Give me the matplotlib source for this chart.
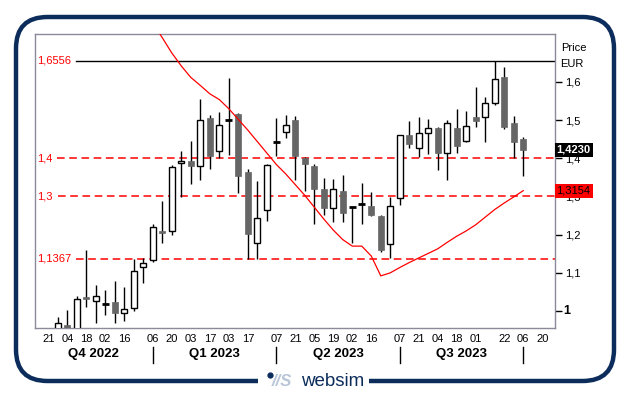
import pandas as pd
import matplotlib
matplotlib.use("Agg")
import matplotlib.pyplot as plt
from matplotlib.patches import FancyBboxPatch, Rectangle
from matplotlib.lines import Line2D

plt.rcParams['font.family'] = ['Liberation Sans', 'DejaVu Sans']

# weekly candles, first week = 21 Oct 2022
weeks = pd.date_range("2022-10-21", periods=53, freq="W-FRI")

candle_start = 1
opens = [0.940, 0.964, 0.950, 1.036, 1.026, 1.018, 1.024, 0.994, 1.007, 1.116,
         1.134, 1.210, 1.210, 1.387, 1.393, 1.379, 1.505, 1.418, 1.500, 1.516,
         1.364, 1.179, 1.264, 1.443, 1.468, 1.500, 1.400, 1.380, 1.320, 1.269,
         1.314, 1.272, 1.281, 1.275, 1.249, 1.175, 1.295, 1.461, 1.428, 1.467,
         1.480, 1.415, 1.480, 1.446, 1.509, 1.509, 1.546, 1.613, 1.493, 1.451]
highs = [0.985, 1.003, 1.039, 1.160, 1.068, 1.055, 1.079, 1.064, 1.135, 1.138,
         1.228, 1.289, 1.383, 1.419, 1.446, 1.555, 1.513, 1.521, 1.611, 1.519,
         1.372, 1.341, 1.384, 1.505, 1.513, 1.511, 1.404, 1.385, 1.348, 1.346,
         1.356, 1.272, 1.335, 1.311, 1.252, 1.299, 1.462, 1.499, 1.508, 1.503,
         1.483, 1.500, 1.529, 1.524, 1.587, 1.561, 1.6556, 1.638, 1.511, 1.457]
lows = [0.930, 0.930, 0.935, 1.011, 0.968, 0.990, 0.969, 0.975, 1.001, 1.073,
        1.128, 1.179, 1.200, 1.298, 1.333, 1.343, 1.372, 1.400, 1.409, 1.310,
        1.136, 1.136, 1.237, 1.407, 1.452, 1.343, 1.315, 1.228, 1.251, 1.234,
        1.232, 1.179, 1.228, 1.249, 1.155, 1.140, 1.278, 1.428, 1.404, 1.411,
        1.369, 1.343, 1.413, 1.442, 1.483, 1.444, 1.540, 1.477, 1.400, 1.354]
closes = [0.968, 0.945, 1.031, 1.032, 1.039, 1.018, 0.996, 1.004, 1.106, 1.125,
          1.219, 1.205, 1.376, 1.393, 1.381, 1.500, 1.407, 1.487, 1.500, 1.354,
          1.203, 1.243, 1.382, 1.443, 1.487, 1.407, 1.384, 1.320, 1.271, 1.319,
          1.258, 1.272, 1.281, 1.252, 1.160, 1.275, 1.461, 1.438, 1.466, 1.479,
          1.415, 1.492, 1.433, 1.485, 1.499, 1.544, 1.607, 1.483, 1.444, 1.423]

# moving average (red line)
ma_start = 11
ma_values = [1.754, 1.716, 1.676, 1.642, 1.612, 1.591, 1.569, 1.554, 1.530, 1.502,
             1.474, 1.444, 1.414, 1.384, 1.359, 1.331, 1.303, 1.272, 1.241, 1.212,
             1.187, 1.170, 1.170, 1.144, 1.092, 1.100, 1.114, 1.127, 1.139, 1.151,
             1.163, 1.180, 1.196, 1.210, 1.226, 1.246, 1.266, 1.283, 1.299, 1.3154]

tick_dates = ["2022-10-21", "2022-11-04", "2022-11-18", "2022-12-02", "2022-12-16",
              "2023-01-06", "2023-01-20", "2023-02-03", "2023-02-17", "2023-03-03",
              "2023-03-17", "2023-04-07", "2023-04-21", "2023-05-05", "2023-05-19",
              "2023-06-02", "2023-06-16", "2023-07-07", "2023-07-21", "2023-08-04",
              "2023-08-18", "2023-09-01", "2023-09-22", "2023-10-06", "2023-10-20"]
quarter_starts = ["2023-01-06", "2023-04-07", "2023-07-07", "2023-10-06"]
quarter_labels = ["Q4 2022", "Q1 2023", "Q2 2023", "Q3 2023"]

y_ticks = [1.6, 1.5, 1.4, 1.3, 1.2, 1.1]
y_tick_labels = ["1,6", "1,5", "1,4", "1,3", "1,2", "1,1"]

ref_levels = [1.6556, 1.4, 1.3, 1.1367]
ref_labels = ["1,6556", "1,4", "1,3", "1,1367"]
last_price = 1.4230
last_ma = 1.3154

NAVY = "#0c2d5c"
RED = "#ff0000"
GRAY = "#666666"

fig = plt.figure(figsize=(6.29, 3.95), dpi=100)
fig.patch.set_facecolor("white")
W, H = 629, 395
ax = fig.add_axes([35 / W, (H - 328) / H, 520 / W, 294 / H])
ax.set_xlim(-1.4, 53.34)
ax.set_ylim(0.9555, 1.7257)
for sp in ax.spines.values():
    sp.set_color("#8a8a9a")
    sp.set_linewidth(1)

# candles
bw = 0.64
for k in range(len(opens)):
    i = candle_start + k
    o, h, l, c = opens[k], highs[k], lows[k], closes[k]
    ax.plot([i, i], [l, h], color="black", lw=1, zorder=3, solid_capstyle="butt")
    if abs(c - o) < 0.002:
        ax.plot([i - bw / 2 - 0.05, i + bw / 2 + 0.05], [c, c], color="black", lw=2, zorder=4,
                solid_capstyle="butt")
    elif c > o:
        ax.add_patch(Rectangle((i - bw / 2, o), bw, c - o, facecolor="white",
                               edgecolor="black", lw=1, zorder=4))
    else:
        ax.add_patch(Rectangle((i - bw / 2, c), bw, o - c, facecolor=GRAY,
                               edgecolor=GRAY, lw=0.5, zorder=4))

# moving average
ma_x = list(range(ma_start, ma_start + len(ma_values)))
ax.plot(ma_x, ma_values, color=RED, lw=0.9, zorder=5)

# reference levels with labels on the left
fig.canvas.draw()
renderer = fig.canvas.get_renderer()
ax_bb = ax.get_window_extent(renderer)
for lvl, lab in zip(ref_levels, ref_labels):
    t = ax.text(0.004, lvl, lab, transform=ax.get_yaxis_transform(), color=RED,
                fontsize=8, va="center", ha="left", zorder=6)
    bb = t.get_window_extent(renderer)
    start = (bb.x1 + 5 - ax_bb.x0) / ax_bb.width
    if lvl == ref_levels[0]:
        ax.axhline(lvl, xmin=start, color="black", lw=1, zorder=2)
    else:
        ax.axhline(lvl, xmin=start, color=RED, lw=1.1, ls=(0, (5, 3)), zorder=2)

# x axis
tick_pos = [weeks.get_loc(pd.Timestamp(d)) for d in tick_dates]
ax.set_xticks(tick_pos)
ax.set_xticklabels([pd.Timestamp(d).strftime("%d") for d in tick_dates], fontsize=8)
ax.tick_params(axis="x", length=0, pad=4)

q_pos = [weeks.get_loc(pd.Timestamp(d)) for d in quarter_starts]
bounds = [-1.4] + q_pos
xt = ax.get_xaxis_transform()
for k, lab in enumerate(quarter_labels):
    ax.text((bounds[k] + bounds[k + 1]) / 2, -0.088, lab, transform=xt, ha="center",
            va="center", fontsize=9.5, fontweight="bold", clip_on=False)
for p in q_pos:
    ax.plot([p, p], [-0.065, -0.118], transform=xt, color="black", lw=1, clip_on=False)

# y axis on the right
ax.yaxis.tick_right()
ax.set_yticks(y_ticks + [1.0])
ax.set_yticklabels(y_tick_labels + [""], fontsize=8)
ax.tick_params(axis="y", length=5, width=1, pad=2, color="black")
yt = ax.get_yaxis_transform()
ax.text(1.0155, 1.0, "1", transform=yt, fontsize=9, fontweight="bold", va="center",
        ha="left", clip_on=False)
ax.text(1.011, 1.6895, "Price", transform=yt, fontsize=8, va="center", ha="left")
ax.text(1.009, 1.648, "EUR", transform=yt, fontsize=8, va="center", ha="left")

ax.text(1.003, last_price, "1,4230", transform=yt, fontsize=8, fontweight="bold",
        color="white", va="center", ha="left", zorder=10, clip_on=False,
        bbox=dict(boxstyle="square,pad=0.18", facecolor="black", edgecolor="none"))
ax.text(1.003, last_ma, "1,3154", transform=yt, fontsize=8, color="black",
        va="center", ha="left", zorder=10, clip_on=False,
        bbox=dict(boxstyle="square,pad=0.18", facecolor=RED, edgecolor="none"))

# rounded frame with logo gap
frame = FancyBboxPatch((16 / W, (H - 381) / H), 598 / W, 364 / H,
                       boxstyle="round,pad=0,rounding_size=0.05",
                       transform=fig.transFigure, facecolor="none",
                       edgecolor=NAVY, lw=3.2, mutation_aspect=W / H)
fig.add_artist(frame)
fig.add_artist(Rectangle((258 / W, 0), 111 / W, 24 / H, transform=fig.transFigure,
                         facecolor="white", edgecolor="none"))
fig.add_artist(Line2D([269.5 / W], [(H - 374.5) / H], transform=fig.transFigure,
                      marker="o", ms=3.5, color=NAVY, lw=0))
fig.text(272 / W, (H - 381.5) / H, "//S", fontsize=12, fontweight="bold", style="italic",
         color="#b9c6d8", va="center", ha="left")
fig.text(301 / W, (H - 381) / H, "websim", fontsize=13.5, color=NAVY, va="center", ha="left")

fig.savefig("out.png", dpi=100)
